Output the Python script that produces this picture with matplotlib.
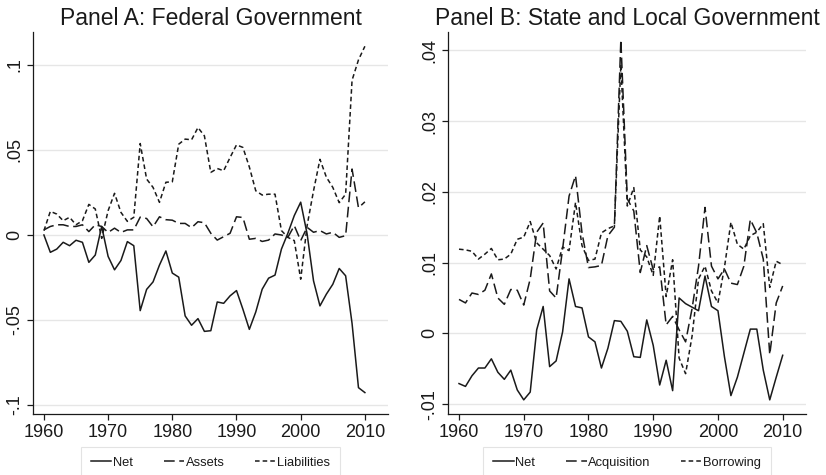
import matplotlib
matplotlib.use('Agg')
import matplotlib.pyplot as plt

plt.rcParams['font.family'] = ['Liberation Sans', 'DejaVu Sans']

years = list(range(1960, 2011))

# Panel A: Federal Government
fed_net = [0.0, -0.0102, -0.0083, -0.0043, -0.0063, -0.0031, -0.0043, -0.0161, -0.0118, 0.005,
           -0.0126, -0.0205, -0.015, -0.0039, -0.0063, -0.0445, -0.032, -0.0276, -0.0177, -0.0094,
           -0.0224, -0.0248, -0.0476, -0.0531, -0.0492, -0.0567, -0.0563, -0.0394, -0.0402, -0.0358,
           -0.0327, -0.0437, -0.0555, -0.0453, -0.0319, -0.0254, -0.0236, -0.0083, 0.001, 0.0114,
           0.0193, 0.0006, -0.027, -0.0417, -0.0348, -0.029, -0.0197, -0.024, -0.052, -0.0898,
           -0.0927]
fed_assets = [0.003, 0.005, 0.006, 0.006, 0.005, 0.005, 0.006, 0.002, 0.006, 0.005,
              0.0015, 0.004, 0.0015, 0.003, 0.003, 0.0105, 0.0097, 0.0048, 0.0107, 0.009,
              0.0087, 0.0068, 0.0068, 0.0043, 0.0078, 0.0072, 0.001, -0.003, -0.001, 0.001,
              0.0107, 0.0103, -0.0025, -0.002, -0.0038, -0.003, 0.0006, 0.0, -0.0014, 0.0055,
              -0.0033, 0.0045, 0.0016, 0.0026, 0.0006, 0.0016, -0.0014, -0.0004, 0.0388, 0.016,
              0.0195]
fed_liab = [0.0025, 0.0139, 0.0123, 0.0084, 0.0104, 0.006, 0.0084, 0.018, 0.0153, -0.002,
            0.0143, 0.0245, 0.0133, 0.008, 0.0104, 0.0538, 0.0329, 0.028, 0.0192, 0.031,
            0.0313, 0.0534, 0.0564, 0.056, 0.0632, 0.0583, 0.0368, 0.0391, 0.0378, 0.0456,
            0.053, 0.0515, 0.04, 0.026, 0.0235, 0.024, 0.024, 0.0026, -0.0014, -0.0033,
            -0.026, 0.0055, 0.026, 0.0445, 0.034, 0.028, 0.019, 0.024, 0.091, 0.103,
            0.111]

# Panel B: State and Local Government
sl_net = [-0.0071, -0.0075, -0.006, -0.0049, -0.0049, -0.0036, -0.0055, -0.0065, -0.0052, -0.008,
          -0.0094, -0.0083, 0.0005, 0.0038, -0.0047, -0.0039, 0.0002, 0.0077, 0.0038, 0.0036,
          -0.0005, -0.0012, -0.0049, -0.0021, 0.0018, 0.0017, 0.0003, -0.0033, -0.0034, 0.0019,
          -0.0017, -0.0073, -0.0038, -0.0081, 0.005, 0.0042, 0.0037, 0.0032, 0.0081, 0.0038,
          0.0032, -0.0033, -0.0088, -0.0062, -0.0028, 0.0006, 0.0006, -0.0052, -0.0094, -0.0062,
          -0.0031]
sl_acq = [0.0048, 0.0043, 0.0057, 0.0055, 0.0061, 0.0084, 0.005, 0.0041, 0.0062, 0.0061,
          0.004, 0.0077, 0.0143, 0.0156, 0.006, 0.005, 0.0119, 0.0194, 0.0223, 0.0142,
          0.0093, 0.0094, 0.0096, 0.0138, 0.015, 0.0415, 0.019, 0.0173, 0.0086, 0.0124,
          0.009, 0.0094, 0.0012, 0.0024, 0.0005, -0.0012, 0.0035, 0.0095, 0.0178, 0.0095,
          0.0077, 0.0091, 0.0071, 0.0069, 0.0095, 0.0161, 0.0142, 0.0105, -0.003, 0.0043,
          0.0067]
sl_borrow = [0.0119, 0.0118, 0.0116, 0.0105, 0.0112, 0.012, 0.0104, 0.0105, 0.0112, 0.0133,
             0.0136, 0.0158, 0.0128, 0.0119, 0.011, 0.0091, 0.0122, 0.0117, 0.0185, 0.0124,
             0.0103, 0.0105, 0.0142, 0.0148, 0.0152, 0.038, 0.018, 0.0206, 0.0118, 0.0108,
             0.0082, 0.0166, 0.0052, 0.0104, -0.0035, -0.0057, -0.0004, 0.0077, 0.0095, 0.006,
             0.0043, 0.0093, 0.0157, 0.0126, 0.0119, 0.0138, 0.0143, 0.0155, 0.0065, 0.0102,
             0.0097]

xticks = [1960, 1970, 1980, 1990, 2000, 2010]

ink = '#1a1a1a'
grid_c = '#e6e6e6'
solid = dict(color=ink, lw=1.1, linestyle='-')
long_dash = dict(color=ink, lw=1.1, linestyle=(0, (7, 3)))
short_dash = dict(color=ink, lw=1.1, linestyle=(0, (3, 2)))

fig = plt.figure(figsize=(8.26, 4.75), dpi=100)
axA = fig.add_axes([33 / 826, 61 / 475, 355 / 826, 382 / 475])
axB = fig.add_axes([448 / 826, 61 / 475, 358 / 826, 382 / 475])


def style(ax, yticks, ylabels, ylim, title):
    ax.set_xlim(1958.3, 2013.6)
    ax.set_ylim(*ylim)
    ax.set_xticks(xticks)
    ax.set_xticklabels([str(t) for t in xticks], fontsize=13, color=ink)
    ax.set_yticks(yticks)
    ax.set_yticklabels(ylabels, fontsize=13, rotation=90, va='center', color=ink)
    ax.tick_params(length=4, width=0.9, color=ink, pad=3)
    for y in yticks:
        ax.axhline(y, color=grid_c, lw=1.0, zorder=0)
    for s in ['top', 'right']:
        ax.spines[s].set_visible(False)
    for s in ['left', 'bottom']:
        ax.spines[s].set_color(ink)
        ax.spines[s].set_linewidth(0.9)
    ax.set_title(title, fontsize=16.5, color=ink, pad=5)


axA.plot(years, fed_net, label='Net', **solid)
axA.plot(years, fed_assets, label='Assets', **long_dash)
axA.plot(years, fed_liab, label='Liabilities', **short_dash)
style(axA, [-0.1, -0.05, 0, 0.05, 0.1], ['-.1', '-.05', '0', '.05', '.1'],
      (-0.1053, 0.1194), 'Panel A: Federal Government')

axB.plot(years, sl_net, label='Net', **solid)
axB.plot(years, sl_acq, label='Acquisition', **long_dash)
axB.plot(years, sl_borrow, label='Borrowing', **short_dash)
style(axB, [-0.01, 0, 0.01, 0.02, 0.03, 0.04], ['-.01', '0', '.01', '.02', '.03', '.04'],
      (-0.0114, 0.0426), 'Panel B: State and Local Government')

for ax in (axA, axB):
    leg = ax.legend(loc='upper center', bbox_to_anchor=(0.5, -0.086), ncol=3,
                    frameon=True, fancybox=False, fontsize=9.3, handlelength=1.6,
                    handletextpad=0.1, columnspacing=2.4, borderpad=0.75,
                    borderaxespad=0)
    leg.get_frame().set_edgecolor('#dddddd')
    leg.get_frame().set_linewidth(0.8)
    for t in leg.get_texts():
        t.set_color(ink)

fig.savefig('out.png', dpi=100)
